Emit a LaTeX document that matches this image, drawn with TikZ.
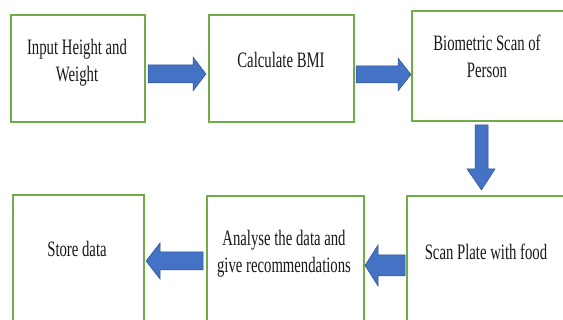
\documentclass[tikz,border=0pt]{standalone}
\usepackage{fontspec}
\newfontfamily\boxfont[FakeStretch=0.67]{Liberation Serif}
\definecolor{boxgreen}{RGB}{112,173,71}
\definecolor{arrblue}{RGB}{68,114,196}
\definecolor{arredge}{RGB}{47,82,143}
\begin{document}
\begin{tikzpicture}[x=1pt,y=-1pt,
  stepbox/.style={draw=boxgreen,line width=1.6pt,anchor=north west,inner sep=0pt},
  lbl/.style={font=\boxfont\fontsize{22}{27}\selectfont,text=black!90,align=center,anchor=base,inner sep=0pt},
  blockarrow/.style={fill=arrblue,draw=arredge,line width=0.5pt,line join=miter}]
\useasboundingbox (0,0) rectangle (563,320);
\fill[white] (0,0) rectangle (563,320);
% boxes
\node[stepbox,minimum width=134pt,minimum height=107pt] (b1) at (10,14) {};
\node[stepbox,minimum width=145pt,minimum height=107pt] (b2) at (208,14) {};
\node[stepbox,minimum width=155pt,minimum height=110pt] (b3) at (411,10) {};
\node[stepbox,minimum width=131pt,minimum height=136pt] (b4) at (12,194) {};
\node[stepbox,minimum width=157pt,minimum height=135pt] (b5) at (206,195) {};
\node[stepbox,minimum width=160pt,minimum height=135pt] (b6) at (406,195) {};
% labels (base anchor = baseline of last line)
\node[lbl] (t1) at (77,82) {Input Height and\\Weight};
\node[lbl] (t2) at (281,68) {Calculate BMI};
\node[lbl] (t3) at (487,78) {Biometric Scan of\\Person};
\node[lbl] (t4) at (77,257) {Store data};
\node[lbl] (t5) at (284,273) {Analyse the data and\\give recommendations};
\node[lbl] (t6) at (486,260) {Scan Plate with food};
% block arrows
\draw[blockarrow] (148,65) -- (193,65) -- (193,57) -- (206,74) -- (193,91) -- (193,83) -- (148,83) -- cycle;
\draw[blockarrow] (356,66) -- (398,66) -- (398,58) -- (411,74.5) -- (398,91) -- (398,83) -- (356,83) -- cycle;
\draw[blockarrow] (475,125) -- (488,125) -- (488,169) -- (495,169) -- (481.5,190) -- (467,169) -- (475,169) -- cycle;
\draw[blockarrow] (405,255) -- (378,255) -- (378,245) -- (365,265.5) -- (378,286) -- (378,276) -- (405,276) -- cycle;
\draw[blockarrow] (203,252) -- (160,252) -- (160,243) -- (146,261) -- (160,279) -- (160,270) -- (203,270) -- cycle;
\end{tikzpicture}
\end{document}
